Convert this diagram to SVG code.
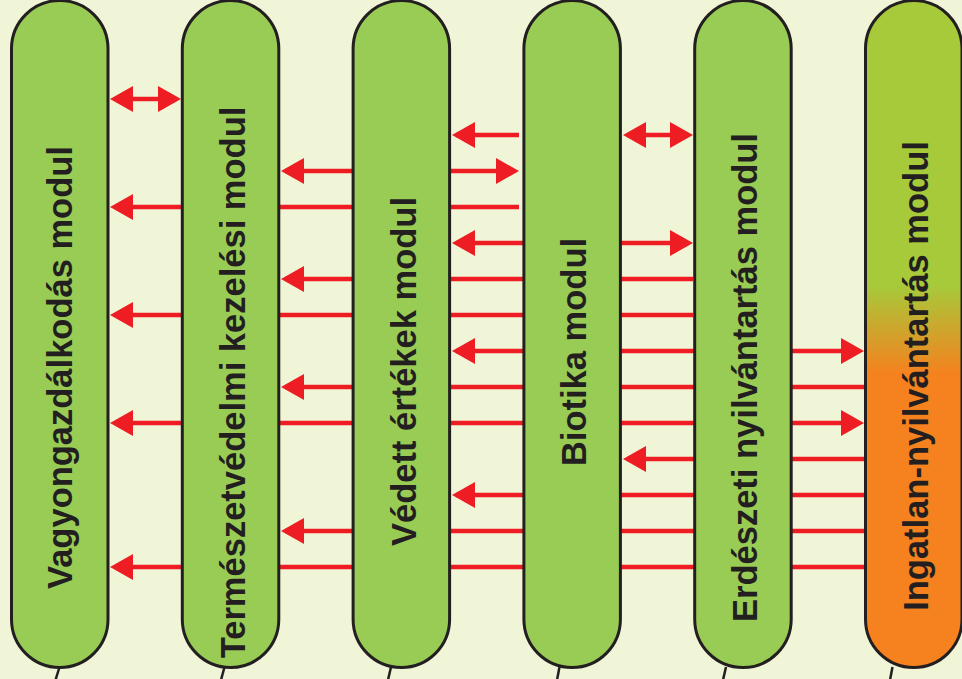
<svg xmlns="http://www.w3.org/2000/svg" xmlns:xlink="http://www.w3.org/1999/xlink" width="962" height="679" viewBox="0 0 962 679">
<style>
.bg{fill:#f0f5d7}
.pill{fill:#99cc55;stroke:#231f20;stroke-width:3}
.pill6{fill:url(#g6);stroke:#231f20;stroke-width:3}
.lbl{font-family:"Liberation Sans",Arial,sans-serif;font-weight:bold;font-size:34.5px;fill:#231f20;text-anchor:middle}
.ln{stroke:#ee1d23;stroke-width:4.5;fill:none}
.ah{fill:#ee1d23}
.tail{stroke:#231f20;stroke-width:2.5;fill:none}
</style>
<defs>
<linearGradient id="g6" gradientUnits="userSpaceOnUse" x1="0" y1="0" x2="0" y2="679">
<stop offset="0" stop-color="#a6ca3a"/>
<stop offset="0.42" stop-color="#a6ca3a"/>
<stop offset="0.55" stop-color="#f5821f"/>
<stop offset="1" stop-color="#f5821f"/>
</linearGradient>
<path id="hl" class="ah" d="M0,0 L23,-13 L23,13 Z"/>
<path id="hr" class="ah" d="M0,0 L-23,-13 L-23,13 Z"/>
</defs>
<rect class="bg" x="0" y="0" width="962" height="679"/>
<g id="connectors">
<line class="ln" x1="115" y1="99" x2="176" y2="99"/>
<use xlink:href="#hl" x="110" y="99"/><use xlink:href="#hr" x="181" y="99"/>
<line class="ln" x1="456" y1="135" x2="519" y2="135"/>
<use xlink:href="#hl" x="452" y="135"/>
<line class="ln" x1="627" y1="135" x2="688" y2="135"/>
<use xlink:href="#hl" x="623" y="135"/><use xlink:href="#hr" x="693" y="135"/>
<line class="ln" x1="285" y1="171" x2="514" y2="171"/>
<use xlink:href="#hl" x="281" y="171"/><use xlink:href="#hr" x="519" y="171"/>
<line class="ln" x1="115" y1="207" x2="519" y2="207"/>
<use xlink:href="#hl" x="110" y="207"/>
<line class="ln" x1="456" y1="243" x2="688" y2="243"/>
<use xlink:href="#hl" x="452" y="243"/><use xlink:href="#hr" x="693" y="243"/>
<line class="ln" x1="285" y1="279" x2="693" y2="279"/>
<use xlink:href="#hl" x="281" y="279"/>
<line class="ln" x1="115" y1="315" x2="693" y2="315"/>
<use xlink:href="#hl" x="110" y="315"/>
<line class="ln" x1="456" y1="351" x2="859" y2="351"/>
<use xlink:href="#hl" x="452" y="351"/><use xlink:href="#hr" x="864" y="351"/>
<line class="ln" x1="285" y1="387" x2="866" y2="387"/>
<use xlink:href="#hl" x="281" y="387"/>
<line class="ln" x1="115" y1="423" x2="859" y2="423"/>
<use xlink:href="#hl" x="110" y="423"/><use xlink:href="#hr" x="864" y="423"/>
<line class="ln" x1="627" y1="459" x2="866" y2="459"/>
<use xlink:href="#hl" x="623" y="459"/>
<line class="ln" x1="456" y1="495" x2="866" y2="495"/>
<use xlink:href="#hl" x="452" y="495"/>
<line class="ln" x1="285" y1="531" x2="866" y2="531"/>
<use xlink:href="#hl" x="281" y="531"/>
<line class="ln" x1="115" y1="567" x2="866" y2="567"/>
<use xlink:href="#hl" x="110" y="567"/>
<line class="tail" x1="59.5" y1="667" x2="55.5" y2="680"/>
<line class="tail" x1="224.5" y1="667" x2="221" y2="680"/>
<line class="tail" x1="391" y1="667" x2="388" y2="680"/>
<line class="tail" x1="559.5" y1="667" x2="557" y2="680"/>
<line class="tail" x1="726" y1="667" x2="723" y2="680"/>
<line class="tail" x1="892.5" y1="667" x2="890" y2="680"/>
</g>
<g id="n1">
<rect class="pill" x="11.5" y="0.5" width="96.5" height="667" rx="48.25"/>
<text class="lbl" transform="translate(72,367.5) rotate(-90)">Vagyongazdálkodás modul</text>
</g>
<g id="n2">
<rect class="pill" x="182.3" y="0.5" width="96.5" height="667" rx="48.25"/>
<text class="lbl" transform="translate(245,382.5) rotate(-90)">Természetvédelmi kezelési modul</text>
</g>
<g id="n3">
<rect class="pill" x="353.1" y="0.5" width="96.5" height="667" rx="48.25"/>
<text class="lbl" transform="translate(416,371.5) rotate(-90)">Védett értékek modul</text>
</g>
<g id="n4">
<rect class="pill" x="523.9" y="0.5" width="96.5" height="667" rx="48.25"/>
<text class="lbl" transform="translate(586,352) rotate(-90)">Biotika modul</text>
</g>
<g id="n5">
<rect class="pill" x="694.7" y="0.5" width="96.5" height="667" rx="48.25"/>
<text class="lbl" transform="translate(757,377.5) rotate(-90)">Erdészeti nyilvántartás modul</text>
</g>
<g id="n6">
<rect class="pill6" x="865.5" y="0.5" width="96.5" height="667" rx="48.25"/>
<text class="lbl" transform="translate(928,376) rotate(-90)">Ingatlan-nyilvántartás modul</text>
</g>
</svg>
